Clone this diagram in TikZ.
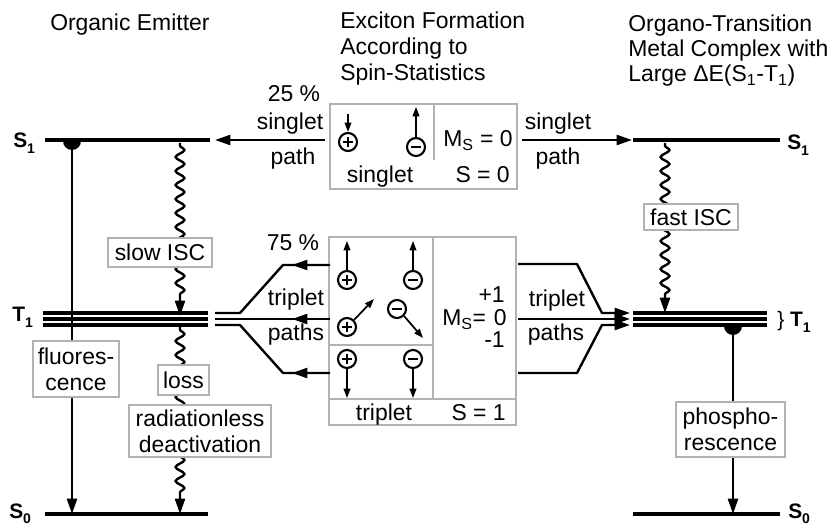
\documentclass[tikz,border=0pt]{standalone}
\usepackage{fontspec}
\setmainfont{Liberation Sans}
\usetikzlibrary{arrows.meta,decorations.pathmorphing}
\newcommand\lvlab[2]{#1\raisebox{-0.28em}{\fontsize{10.5}{11}\selectfont #2}}
\begin{document}
\begin{tikzpicture}[x=0.75pt,y=-0.75pt,
  every node/.style={font=\fontsize{17.2}{19.5}\selectfont, inner sep=0pt},
  level/.style={line width=3.4pt},
  tlev/.style={line width=2.7pt},
  conn/.style={line width=1.8pt},
  tip/.style={-{Triangle[length=11.5pt,width=7.5pt]}},
  wave/.style={line width=1.8pt, decorate, decoration={snake, amplitude=3.3pt, segment length=10.5pt, post length=12pt, pre length=2pt}},
  gbox/.style={draw=black!30, line width=1pt, fill=white, align=center},
  gline/.style={draw=black!30, line width=1pt},
  lab/.style={font=\fontsize{15.7}{16}\selectfont\bfseries, anchor=base west},
  hdr/.style={anchor=base west},
  chg/.style={circle, draw, line width=1.6pt, minimum size=13.5pt, inner sep=0pt},
  pm/.style={line width=1.4pt},
  spin/.style={line width=1.3pt, -{Triangle[length=7pt,width=5pt]}},
]
\useasboundingbox (0,0) rectangle (832,527);

% headers
\node[hdr] (h1) at (50,31) {Organic Emitter};
\node[hdr] (h2a) at (340,29) {Exciton Formation};
\node[hdr] (h2b) at (340,55) {According to};
\node[hdr] (h2c) at (340,81) {Spin-Statistics};
\node[hdr] (h3a) at (628,32) {Organo-Transition};
\node[hdr] (h3b) at (628,57) {Metal Complex with};
\node[hdr] (h3c) at (628,82) {Large ΔE(S\textsubscript{1}-T\textsubscript{1})};

% level labels
\node[lab] (lS1) at (13,148) {\lvlab{S}{1}};
\node[lab] (lT1) at (12,322) {\lvlab{T}{1}};
\node[lab] (lS0) at (9,518) {\lvlab{S}{0}};
\node[lab] (rS1) at (787,150) {\lvlab{S}{1}};
\node[lab] (rT1) at (777,327) {{\mdseries\}} \lvlab{T}{1}};
\node[lab] (rS0) at (788,518) {\lvlab{S}{0}};

% level coordinates
\coordinate (LS1a) at (45,140);  \coordinate (LS1b) at (210,140);
\coordinate (LS0a) at (45,514);  \coordinate (LS0b) at (208,514);
\coordinate (RS1a) at (633,140); \coordinate (RS1b) at (780,140);
\coordinate (RS0a) at (633,514); \coordinate (RS0b) at (780,514);
\foreach \y/\n in {313/a,319/b,325/c}{
  \coordinate (LT\n1) at (43,\y);  \coordinate (LT\n2) at (208,\y);
  \coordinate (RT\n1) at (633,\y); \coordinate (RT\n2) at (767,\y);
}

\draw[level] (LS1a) -- (LS1b);
\draw[level] (LS0a) -- (LS0b);
\draw[level] (RS1a) -- (RS1b);
\draw[level] (RS0a) -- (RS0b);
\foreach \n in {a,b,c}{
  \draw[tlev] (LT\n1) -- (LT\n2);
  \draw[tlev] (RT\n1) -- (RT\n2);
}

% central boxes
\node[gline, minimum width=140.25pt, minimum height=63.75pt] (sbox) at (423.5,146.5) {};
\draw[gline] (434,104) -- (434,160);
\node[gline, minimum width=140.25pt, minimum height=141pt] (tbox) at (422.5,331) {};
\draw[gline] (433,237) -- (433,399);
\draw[gline] (329,399) -- (516,399);
\draw[gline] (329,345) -- (433,345);

% charges
\foreach \n/\x/\y/\s in {c1/348/142/p, c2/416/147/m, c3/347/280/p, c4/413/280/m, c5/347/327/p, c6/397/309/m, c7/347/359/p, c8/413/359/m}{
  \node[chg] (\n) at (\x,\y) {};
  \draw[pm] ([xshift=-3.6pt]\n.center) -- ([xshift=3.6pt]\n.center);
  \if p\s \draw[pm] ([yshift=-3.6pt]\n.center) -- ([yshift=3.6pt]\n.center); \fi
}
\coordinate (s1) at (348,114);
\coordinate (s2) at (416,107);
\coordinate (s3) at (347,241);
\coordinate (s4) at (413,241);
\coordinate (s5) at (374,299);
\coordinate (s6) at (423,338);
\coordinate (s7) at (347,398);
\coordinate (s8) at (413,398);
\draw[spin] (s1) -- (c1.north);
\draw[spin] (c2.north) -- (s2);
\draw[spin] (c3.north) -- (s3);
\draw[spin] (c4.north) -- (s4);
\draw[spin] (c5.north east) -- (s5);
\draw[spin] (c6.south east) -- (s6);
\draw[spin] (c7.south) -- (s7);
\draw[spin] (c8.south) -- (s8);

% box texts
\node[anchor=base west] (ms0) at (443,147) {M\textsubscript{S} = 0};
\node[anchor=base] (sgl) at (380,183) {singlet};
\node[anchor=base east] (s0t) at (510,183) {S = 0};
\node[anchor=base east] (mp1) at (505,303) {+1};
\node[anchor=base east] (m0) at (507,326) {0};
\node[anchor=base east] (mm1) at (505,348) {-1};
\node[anchor=base west] (msl) at (442,326) {M\textsubscript{S}=};
\node[anchor=base] (trl) at (384,420) {triplet};
\node[anchor=base east] (s1t) at (506,420) {S = 1};

% singlet paths
\coordinate (sbl) at (325,140);
\coordinate (sbr) at (522,140);
\coordinate (lsin) at (215,140);
\coordinate (rsin) at (632,140);
\draw[conn, tip] (sbl) -- (lsin);
\draw[conn, tip] (sbr) -- (rsin);
\node[anchor=base] (p25) at (294,102) {25 \%};
\node[anchor=base] (lsg) at (290,130) {singlet};
\node[anchor=base] (lpa) at (293,165) {path};
\node[anchor=base] (rsg) at (558,130) {singlet};
\node[anchor=base] (rpa) at (558,165) {path};

% triplet paths left
\coordinate (tl1) at (330,265); \coordinate (tl1k) at (283,265); \coordinate (tl1j) at (240,313); \coordinate (tl1e) at (215,313);
\coordinate (tl2) at (330,319); \coordinate (tl2e) at (215,319);
\coordinate (tl3) at (330,373); \coordinate (tl3k) at (283,373); \coordinate (tl3j) at (240,325); \coordinate (tl3e) at (215,325);
\coordinate (al1) at (292,265); \coordinate (al2) at (292,319); \coordinate (al3) at (292,373);
\draw[conn, line join=round] (tl1) -- (tl1k) -- (tl1j) -- (tl1e);
\draw[conn] (tl2) -- (tl2e);
\draw[conn, line join=round] (tl3) -- (tl3k) -- (tl3j) -- (tl3e);
\draw[conn, tip] (tl1) -- (al1);
\draw[conn, tip] (tl2) -- (al2);
\draw[conn, tip] (tl3) -- (al3);
\node[anchor=base] (p75) at (293,251) {75 \%};
\node[anchor=base] (ltr) at (296,306) {triplet};
\node[anchor=base] (lpt) at (296,341) {paths};

% triplet paths right
\coordinate (tr1) at (518,264); \coordinate (tr1k) at (577,264); \coordinate (tr1j) at (602,313); \coordinate (tr1e) at (630,313);
\coordinate (tr2) at (518,319); \coordinate (tr2e) at (630,319);
\coordinate (tr3) at (518,373); \coordinate (tr3k) at (577,373); \coordinate (tr3j) at (602,325); \coordinate (tr3e) at (630,325);
\draw[conn, tip, line join=round] (tr1) -- (tr1k) -- (tr1j) -- (tr1e);
\draw[conn, tip] (tr2) -- (tr2e);
\draw[conn, tip, line join=round] (tr3) -- (tr3k) -- (tr3j) -- (tr3e);
\node[anchor=base] (rtr) at (557,307) {triplet};
\node[anchor=base] (rpt) at (556,340) {paths};

% radiative transitions
\coordinate (fl1) at (72,140); \coordinate (fl2) at (72,514);
\fill (63,141) arc[start angle=180, end angle=0, radius=9] -- cycle;
\draw[conn, tip] (fl1) -- (fl2);
\coordinate (ph1) at (733,326); \coordinate (ph2) at (733,514);
\fill (724,326) arc[start angle=180, end angle=0, radius=9] -- cycle;
\draw[conn, tip] (ph1) -- (ph2);

% radiationless transitions
\coordinate (w1a) at (180,143); \coordinate (w1b) at (180,316);
\coordinate (w2a) at (180,327); \coordinate (w2b) at (180,514);
\coordinate (w3a) at (665,143); \coordinate (w3b) at (665,313);
\draw[wave, tip] (w1a) -- (w1b);
\draw[wave, tip] (w2a) -- (w2b);
\draw[wave, tip] (w3a) -- (w3b);

% labelled boxes
\node[gbox, minimum width=78pt, minimum height=21.75pt] (slow) at (160,252.5) {slow ISC};
\node[gbox, minimum width=64.5pt, minimum height=42pt] (fluo) at (76,369) {fluores-\\cence};
\node[gbox, minimum width=38.25pt, minimum height=22.5pt] (loss) at (183.5,380) {loss};
\node[gbox, minimum width=106.5pt, minimum height=39pt] (rad) at (200,431) {radiationless\\deactivation};
\node[gbox, minimum width=70.5pt, minimum height=19.5pt] (fast) at (691,217) {fast ISC};
\node[gbox, minimum width=81.75pt, minimum height=41.25pt] (phos) at (730.5,429.5) {phospho-\\rescence};
\end{tikzpicture}
\end{document}
